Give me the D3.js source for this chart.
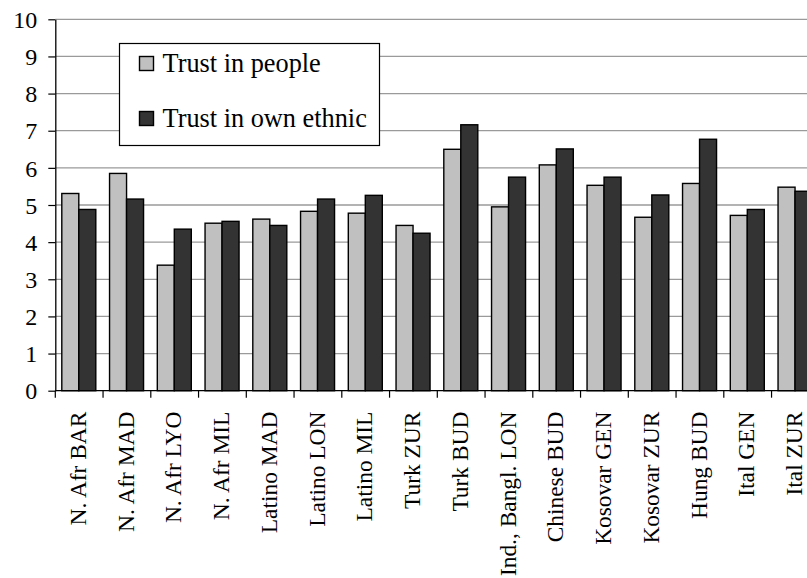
<!DOCTYPE html>
<head>
  <meta charset="utf-8">
  <style>
    body { margin: 0; background: #fff; }
    svg .grid { stroke: #9a9a9a; stroke-width: 1.3px; }
    svg .domain { stroke: #000; stroke-width: 1.3px; }
    svg .tick line { stroke: #000; stroke-width: 1.2px; }
  </style>
</head>
<body>
<script src="https://d3js.org/d3.v7.min.js"></script>
<script>
  // data
  var groups = ["N. Afr BAR", "N. Afr MAD", "N. Afr LYO", "N. Afr MIL", "Latino MAD",
                "Latino LON", "Latino MIL", "Turk ZUR", "Turk BUD", "Ind., Bangl. LON",
                "Chinese BUD", "Kosovar GEN", "Kosovar ZUR", "Hung BUD", "Ital GEN", "Ital ZUR"];
  var seriesNames = ["Trust in people", "Trust in own ethnic"];
  var trustPeople = [5.31, 5.85, 3.38, 4.51, 4.62, 4.83, 4.78, 4.45, 6.50, 4.95,
                     6.08, 5.53, 4.67, 5.58, 4.72, 5.48];
  var trustEthnic = [4.88, 5.16, 4.35, 4.56, 4.45, 5.16, 5.26, 4.24, 7.16, 5.75,
                     6.51, 5.75, 5.27, 6.77, 4.88, 5.37];
  var yTicks = [0, 1, 2, 3, 4, 5, 6, 7, 8, 9, 10];
  var colors = ["#c0c0c0", "#333333"];

  var serif = "'Liberation Serif'";
  var width = 807, height = 578;
  var x0 = 55.3, step = 47.75;
  var yTop = 19.3, yBottom = 390.7;

  var svg = d3.select("body").append("svg")
      .attr("width", width)
      .attr("height", height)
      .style("font-family", serif);

  var xScale = d3.scaleBand().domain(groups)
      .range([x0, x0 + step * groups.length]);
  var xInner = d3.scaleBand().domain(seriesNames).range([6.5, 40.5]);
  var yScale = d3.scaleLinear().domain([0, 10]).range([yBottom, yTop]);

  // horizontal grid lines
  svg.append("g").selectAll("line")
      .data(yTicks.filter(function (d) { return d > 0; }))
      .join("line")
      .classed("grid", true)
      .attr("x1", x0)
      .attr("x2", width)
      .attr("y1", function (d) { return yScale(d); })
      .attr("y2", function (d) { return yScale(d); });

  // bars
  var table = groups.map(function (g, i) {
    return { group: g, values: [trustPeople[i], trustEthnic[i]] };
  });

  svg.append("g").selectAll("g")
      .data(table)
      .join("g")
      .attr("transform", function (d) { return "translate(" + xScale(d.group) + ",0)"; })
    .selectAll("rect")
      .data(function (d) { return d.values.map(function (v, j) { return { key: seriesNames[j], value: v, j: j }; }); })
      .join("rect")
      .attr("x", function (d) { return xInner(d.key); })
      .attr("width", xInner.bandwidth())
      .attr("y", function (d) { return yScale(d.value); })
      .attr("height", function (d) { return yBottom - yScale(d.value); })
      .attr("fill", function (d) { return colors[d.j]; })
      .attr("stroke", "#000")
      .attr("stroke-width", 1.4);

  // y axis
  var yAxis = d3.axisLeft(yScale)
      .tickValues(yTicks)
      .tickSize(7)
      .tickSizeOuter(0)
      .tickPadding(11)
      .tickFormat(d3.format("d"));

  var yAxisG = svg.append("g")
      .attr("transform", "translate(" + x0 + ",0)")
      .call(yAxis);
  yAxisG.attr("font-family", null).attr("font-size", null);
  yAxisG.selectAll("text")
      .style("font-family", serif)
      .style("font-size", "24px")
      .attr("fill", "#000")
      .attr("dy", "0.34em");

  // x axis, ticks on category boundaries
  var xAxisG = svg.append("g")
      .attr("transform", "translate(0," + yBottom + ")");
  xAxisG.append("line")
      .attr("class", "domain")
      .attr("x1", x0)
      .attr("x2", width);
  xAxisG.selectAll(".tick-mark")
      .data(d3.range(groups.length + 1))
      .join("line")
      .attr("class", "tick-mark")
      .attr("stroke", "#000")
      .attr("stroke-width", 1.2)
      .attr("x1", function (i) { return x0 + i * step; })
      .attr("x2", function (i) { return x0 + i * step; })
      .attr("y1", 0)
      .attr("y2", 7);

  xAxisG.selectAll("text.cat")
      .data(groups)
      .join("text")
      .attr("class", "cat")
      .attr("transform", function (d) {
        return "translate(" + (xScale(d) + xScale.bandwidth() / 2 - 1.5) + ",21) rotate(-90)";
      })
      .attr("dy", "0.35em")
      .style("text-anchor", "end")
      .style("font-family", serif)
      .style("font-size", "23.4px")
      .text(function (d) { return d; });

  // legend
  var legend = svg.append("g").attr("transform", "translate(119.5,43.5)");
  legend.append("rect")
      .attr("width", 260)
      .attr("height", 102)
      .attr("fill", "#fff")
      .attr("stroke", "#000")
      .attr("stroke-width", 1.2);
  var items = legend.selectAll("g.item")
      .data(seriesNames)
      .join("g")
      .attr("transform", function (d, i) { return "translate(20," + (13 + i * 55) + ")"; });
  items.append("rect")
      .attr("width", 14)
      .attr("height", 14)
      .attr("fill", function (d, i) { return colors[i]; })
      .attr("stroke", "#000")
      .attr("stroke-width", 1.4);
  items.append("text")
      .attr("x", 23)
      .attr("y", 15)
      .style("font-family", serif)
      .style("font-size", "26.3px")
      .text(function (d) { return d; });
</script>
</body>
</html>
